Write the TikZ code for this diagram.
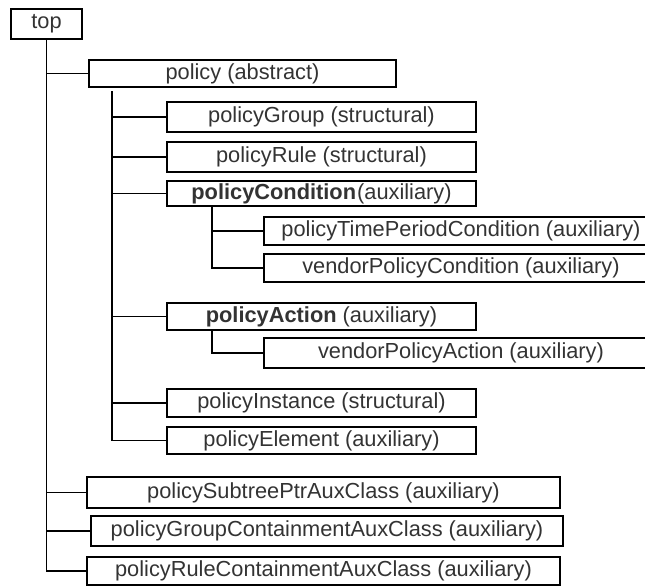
\documentclass[tikz,border=0pt]{standalone}
\usepackage{fontspec}
\setmainfont{Liberation Sans}
\begin{document}
\begin{tikzpicture}[x=1pt,y=-1pt,
  cls/.style={draw=black, line width=1.9pt, inner sep=0pt, text=black!80,
    font=\fontsize{21.8}{26}\selectfont, anchor=center},
  link/.style={draw=black, line width=1.9pt}]
\useasboundingbox (0,0) rectangle (645,586);

% class boxes
\node[cls, minimum width=71pt,  minimum height=30pt] (top)       at (46.5,24)    {top};
\node[cls, minimum width=307pt, minimum height=27pt] (policy)    at (242.5,73.5) {policy (abstract)};
\node[cls, minimum width=309pt, minimum height=30pt] (group)     at (321.5,117)  {policyGroup (structural)};
\node[cls, minimum width=309pt, minimum height=30pt] (rule)      at (321.5,157)  {policyRule (structural)};
\node[cls, minimum width=309pt, minimum height=25pt] (cond)      at (321.5,193.5){\textbf{policyCondition}\hspace{0.05em}(auxiliary)};
\node[cls, minimum width=394pt, minimum height=28pt] (timeper)   at (461,231)    {policyTimePeriodCondition (auxiliary)};
\node[cls, minimum width=394pt, minimum height=28pt] (vendcond)  at (461,268)    {vendorPolicyCondition (auxiliary)};
\node[cls, minimum width=309pt, minimum height=27pt] (action)    at (321.5,316.5){\textbf{policyAction} (auxiliary)};
\node[cls, minimum width=394pt, minimum height=30pt] (vendact)   at (461,353)    {vendorPolicyAction (auxiliary)};
\node[cls, minimum width=309pt, minimum height=28pt] (inst)      at (321.5,403)  {policyInstance (structural)};
\node[cls, minimum width=309pt, minimum height=27pt] (elem)      at (321.5,440.5){policyElement (auxiliary)};
\node[cls, minimum width=473pt, minimum height=31pt] (subtree)   at (323.5,492.5){policySubtreePtrAuxClass (auxiliary)};
\node[cls, minimum width=472pt, minimum height=30pt] (groupcont) at (327,531)    {policyGroupContainmentAuxClass (auxiliary)};
\node[cls, minimum width=473pt, minimum height=28pt] (rulecont)  at (323.5,571)  {policyRuleContainmentAuxClass (auxiliary)};

% trunk roots of the subtrees
\coordinate (pj) at ([xshift=23.5pt,yshift=-3.5pt]policy.south west);
\coordinate (cj) at ([xshift=46pt]cond.south west);
\coordinate (aj) at ([xshift=46pt]action.south west);

% inheritance links
\foreach \n in {policy,subtree,groupcont,rulecont}
  \draw[link] (top.south) |- (\n.west);
\foreach \n in {group,rule,cond,action,inst,elem}
  \draw[link] (pj) |- (\n.west);
\foreach \n in {timeper,vendcond}
  \draw[link] (cj) |- (\n.west);
\draw[link] (aj) |- (vendact.west);
\end{tikzpicture}
\end{document}
